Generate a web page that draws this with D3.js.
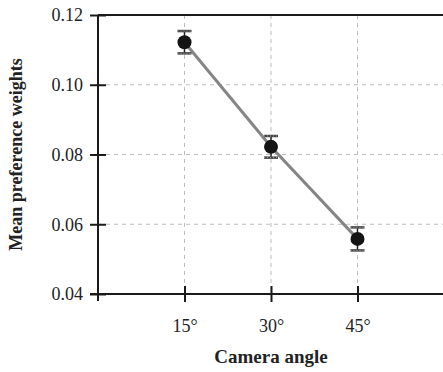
<!DOCTYPE html>
<html>
<head>
<meta charset="utf-8">
<script src="https://cdn.jsdelivr.net/npm/d3@7"></script>
<style>
  html, body { margin: 0; padding: 0; background: #fff; }
  svg { display: block; }
  svg text { font-family: "Liberation Serif", "DejaVu Serif", serif !important; fill: #222; }
</style>
</head>
<body>
<div id="chart"></div>
<script>
// Camera angle (degrees) vs mean preference weight, with error bars
const angles = [15, 30, 45];
const angleLabels = ["15°", "30°", "45°"];
const meanWeights = [0.1122, 0.0822, 0.0558];
const errors = [0.0032, 0.0031, 0.0033];
const yTicks = [0.04, 0.06, 0.08, 0.10, 0.12];

const width = 443, height = 372;
const margin = { top: 15, right: 0, bottom: 78, left: 98 };

const svg = d3.select("#chart").append("svg")
  .attr("width", width).attr("height", height);

const x = d3.scaleLinear().domain([0, 60]).range([margin.left, 444]);
const y = d3.scaleLinear().domain([0.04, 0.12]).range([height - margin.bottom, margin.top]);

const x0 = x.range()[0], x1 = width;
const y0 = y.range()[0], y1 = y.range()[1];

// dashed grid
const grid = svg.append("g").attr("stroke", "#bdbdbd").attr("stroke-width", 1)
  .attr("stroke-dasharray", "4,4");
grid.selectAll("line.h").data(yTicks.filter(t => t > 0.04 && t < 0.12)).join("line")
  .attr("x1", x0).attr("x2", x1).attr("y1", d => y(d)).attr("y2", d => y(d));
grid.selectAll("line.v").data(angles).join("line")
  .attr("x1", d => x(d)).attr("x2", d => x(d)).attr("y1", y1).attr("y2", y0);

// frame: top edge
svg.append("line").attr("x1", x0).attr("x2", x1).attr("y1", y1).attr("y2", y1)
  .attr("stroke", "#1a1a1a").attr("stroke-width", 2);

// y axis
const yAxis = svg.append("g").attr("transform", `translate(${x0},0)`)
  .call(d3.axisLeft(y).tickValues(yTicks).tickFormat(d3.format(".2f")).tickSize(8).tickPadding(7));
yAxis.attr("font-family", "Liberation Serif").attr("font-size", 18);
yAxis.select(".domain").attr("stroke", "#1a1a1a").attr("stroke-width", 2)
  .attr("d", `M0,${y0 + 7}V${y1}`);
yAxis.selectAll(".tick line").attr("stroke", "#1a1a1a").attr("stroke-width", 2)
  .attr("x1", 8).attr("x2", -8);
yAxis.selectAll(".tick text").style("font-size", "18px").attr("fill", "#333");

// x axis
const xAxis = svg.append("g").attr("transform", `translate(0,${y0})`)
  .call(d3.axisBottom(x).tickValues(angles).tickFormat((d, i) => angleLabels[i]).tickSize(8).tickPadding(17));
xAxis.attr("font-family", "Liberation Serif").attr("font-size", 18);
xAxis.select(".domain").attr("stroke", "#1a1a1a").attr("stroke-width", 2)
  .attr("d", `M${x0 - 8},0H${x1}`);
xAxis.selectAll(".tick line").attr("stroke", "#1a1a1a").attr("stroke-width", 2)
  .attr("y1", -8).attr("y2", 8);
xAxis.selectAll(".tick text").style("font-size", "18px").attr("fill", "#333");

// axis titles
svg.append("text").attr("x", x(30)).attr("y", 363).attr("text-anchor", "middle")
  .style("font-size", "19px").style("font-weight", "bold").text("Camera angle");
svg.append("text").attr("transform", `translate(22,${(y0 + y1) / 2}) rotate(-90)`)
  .attr("text-anchor", "middle").style("font-size", "18px").style("font-weight", "bold")
  .text("Mean preference weights");

const data = angles.map((a, i) => ({ a, m: meanWeights[i], e: errors[i] }));

// connecting line
svg.append("path").datum(data)
  .attr("fill", "none").attr("stroke", "#858585").attr("stroke-width", 3)
  .attr("d", d3.line().x(d => x(d.a)).y(d => y(d.m)));

// error bars
const eb = svg.append("g");
eb.selectAll("line.stem").data(data).join("line")
  .attr("x1", d => x(d.a)).attr("x2", d => x(d.a))
  .attr("y1", d => y(d.m + d.e)).attr("y2", d => y(d.m - d.e))
  .attr("stroke", "#222").attr("stroke-width", 1.5);
data.forEach(d => {
  [d.m + d.e, d.m - d.e].forEach(v => {
    eb.append("line").attr("x1", x(d.a) - 7).attr("x2", x(d.a) + 7)
      .attr("y1", y(v)).attr("y2", y(v))
      .attr("stroke", "#444").attr("stroke-width", 2.5);
    eb.append("line").attr("x1", x(d.a) - 7).attr("x2", x(d.a) + 7)
      .attr("y1", y(v)).attr("y2", y(v))
      .attr("stroke", "#aaa").attr("stroke-width", 1).attr("stroke-dasharray", "1,2");
  });
});

// points
svg.append("g").selectAll("circle").data(data).join("circle")
  .attr("cx", d => x(d.a)).attr("cy", d => y(d.m)).attr("r", 7)
  .attr("fill", "#141414");
</script>
</body>
</html>
